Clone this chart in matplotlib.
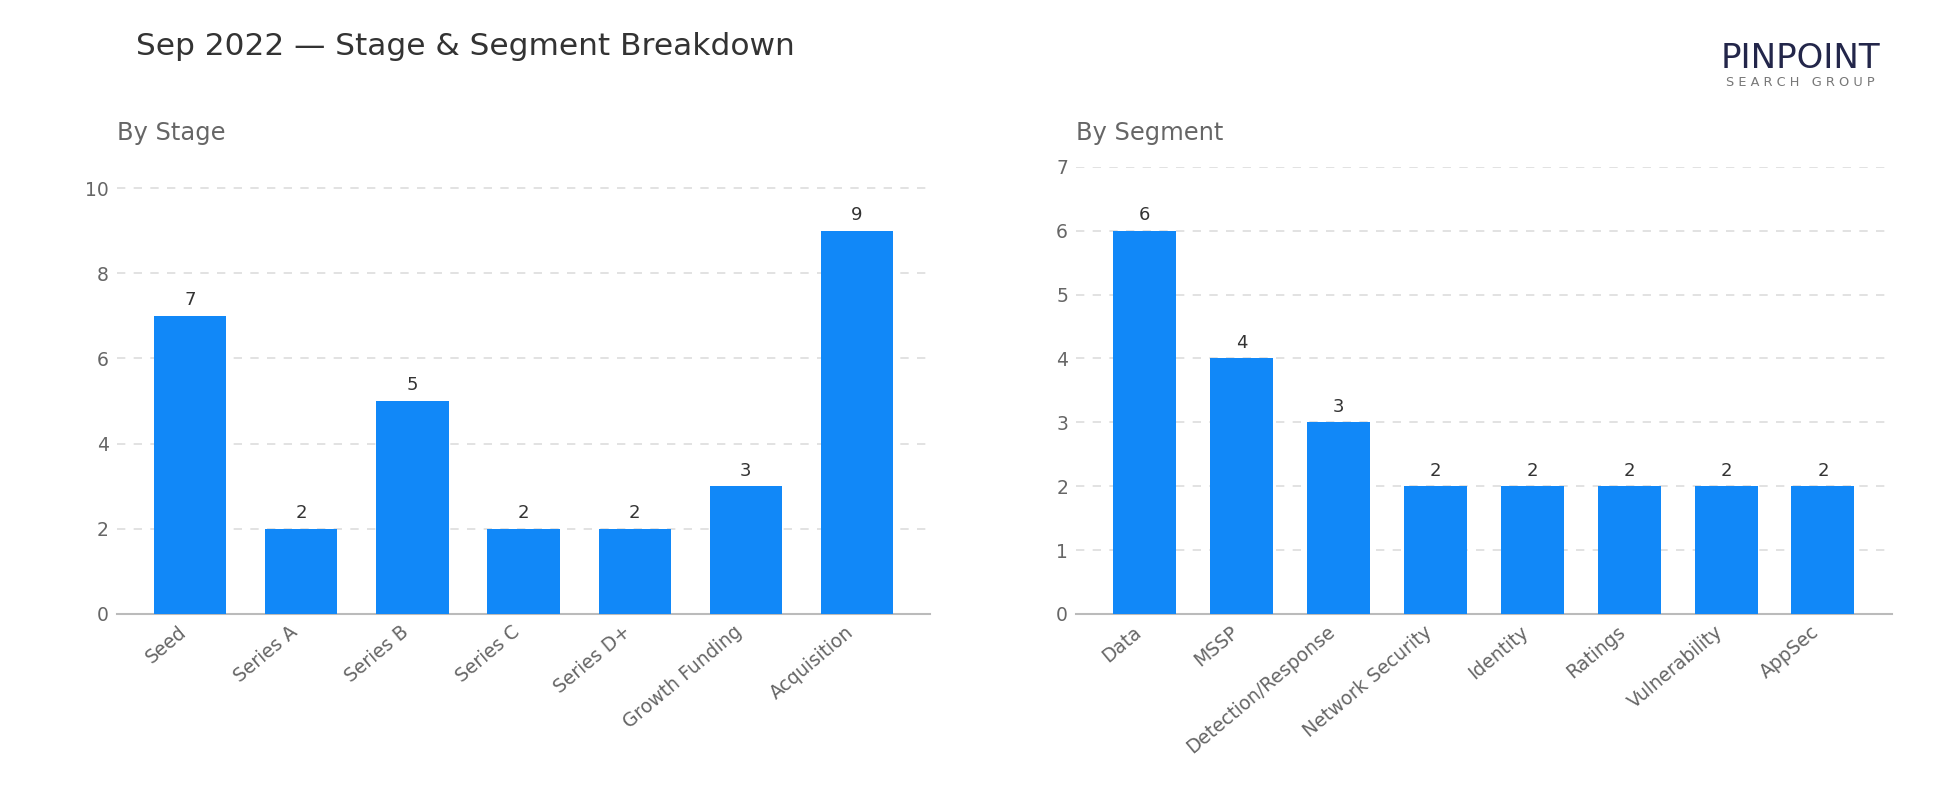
import matplotlib
matplotlib.use("Agg")
import matplotlib.pyplot as plt

# data
stages = ["Seed", "Series A", "Series B", "Series C", "Series D+", "Growth Funding", "Acquisition"]
stage_counts = [7, 2, 5, 2, 2, 3, 9]
segments = ["Data", "MSSP", "Detection/Response", "Network Security", "Identity",
            "Ratings", "Vulnerability", "AppSec"]
segment_counts = [6, 4, 3, 2, 2, 2, 2, 2]

BLUE = "#1188f8"
plt.rcParams["font.family"] = ["DejaVu Sans"]

fig = plt.figure(figsize=(19.5, 8.1), dpi=100)
ax1 = fig.add_axes([0.06, 0.242, 0.417, 0.552])
ax2 = fig.add_axes([0.552, 0.242, 0.418, 0.552])


def draw(ax, cats, vals, title, ymax, yticks):
    x = range(len(cats))
    ax.bar(x, vals, width=0.65, color=BLUE, zorder=3)
    for xi, v in zip(x, vals):
        ax.text(xi, v + ymax * 0.015, str(v), ha="center", va="bottom",
                fontsize=13, color="#333333")
    ax.set_ylim(0, ymax)
    ax.set_yticks(yticks)
    ax.set_xticks(list(x))
    ax.set_xticklabels(cats, rotation=40, ha="right",
                       fontsize=13.5, color="#666666")
    ax.tick_params(axis="y", labelsize=13.5, labelcolor="#666666", length=0, pad=6)
    ax.tick_params(axis="x", length=0, pad=6)
    ax.grid(axis="y", color="#dddddd", linestyle=(0, (5, 5)), linewidth=1.2, zorder=0)
    for s in ["top", "right", "left"]:
        ax.spines[s].set_visible(False)
    ax.spines["bottom"].set_color("#bbbbbb")
    ax.spines["bottom"].set_linewidth(1.5)
    ax.set_title(title, loc="left", fontsize=17.4, color="#666666", pad=19)


draw(ax1, stages, stage_counts, "By Stage", 10.5, [0, 2, 4, 6, 8, 10])
draw(ax2, segments, segment_counts, "By Segment", 7, range(0, 8))

fig.text(0.07, 0.96, "Sep 2022 \u2014 Stage & Segment Breakdown", fontsize=22.5,
         color="#333333", va="top")

# logo
fig.text(0.9235, 0.928, "PINPOINT", fontsize=24.5, color="#23264a", ha="center",
         va="center")
fig.text(0.9235, 0.898, "S E A R C H   G R O U P", fontsize=9.3, color="#777777",
         ha="center", va="center")

fig.savefig("out.png", dpi=100)
